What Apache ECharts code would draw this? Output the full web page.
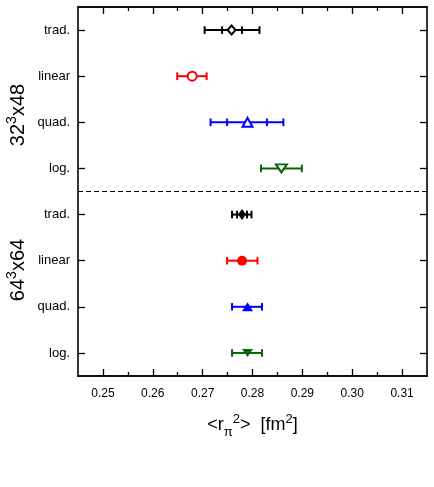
<!DOCTYPE html>
<html>
<head>
<meta charset="utf-8">
<script src="https://cdn.jsdelivr.net/npm/echarts@6/dist/echarts.min.js"></script>
<style>
  html, body { margin: 0; padding: 0; background: #fff; }
  #chart { width: 434px; height: 487px; }
</style>
</head>
<body>
<div id="chart"></div>
<script>
// rows counted from the bottom: 0..3 are 64^3x64, 4..7 are 32^3x48
const rowLabels = ['log.', 'quad.', 'linear', 'trad.', 'log.', 'quad.', 'linear', 'trad.'];
const rowTicks = [0, 1, 2, 3, 4, 5, 6, 7];
const separatorY = 3.5;
const xMin = 0.245, xMax = 0.315;
const xMajorTicks = [0.25, 0.26, 0.27, 0.28, 0.29, 0.30, 0.31];
const xMinorTicks = [0.255, 0.265, 0.275, 0.285, 0.295, 0.305];

// methods in order trad., linear, quad., log.
const methods = ['trad.', 'linear', 'quad.', 'log.'];
const colors = ['#000000', '#ff0000', '#0000ff', '#0a640a'];
const row32 = [7, 6, 5, 4];
const row64 = [3, 2, 1, 0];

// 32^3x48 (open symbols)
const val32 = [0.2758, 0.2679, 0.2790, 0.2858];
const lo32 = [0.2704, 0.2649, 0.2716, 0.2817];
const hi32 = [0.2814, 0.2708, 0.2862, 0.2899];
const innerLo32 = [0.2739, null, 0.2749, null];
const innerHi32 = [0.2779, null, 0.2829, null];

// 64^3x64 (filled symbols)
const val64 = [0.2779, 0.2779, 0.2790, 0.2790];
const lo64 = [0.2759, 0.2749, 0.2759, 0.2759];
const hi64 = [0.2798, 0.2810, 0.2819, 0.2819];
const innerLo64 = [0.2769, null, null, null];
const innerHi64 = [0.2789, null, null, null];

const symbols = ['diamond', 'circle', 'triangle', 'triangle'];
const rotates = [0, 0, 0, 180];
const sizesOpen = [[8, 9], 9, [10, 9], [11, 8]];
const sizesFilled = [[8, 11], 10, [11, 9], [11, 8]];

const font = 'Liberation Sans, Arial, Helvetica, sans-serif';

let chart = echarts.init(document.getElementById('chart'));

// error bar data: lo, hi, row, innerLo, innerHi, colour index
const errData = [];
methods.forEach((m, i) => {
  errData.push([lo32[i], hi32[i], row32[i], innerLo32[i], innerHi32[i], i]);
  errData.push([lo64[i], hi64[i], row64[i], innerLo64[i], innerHi64[i], i]);
});

function renderErr(params, api) {
  const y = api.value(2);
  const color = colors[api.value(5)];
  const p1 = api.coord([api.value(0), y]);
  const p2 = api.coord([api.value(1), y]);
  const h = 3.8;
  const style = { stroke: color, lineWidth: 2 };
  const cap = (p) => ({ type: 'line', shape: { x1: p[0], y1: p[1] - h, x2: p[0], y2: p[1] + h }, style: style });
  const children = [
    { type: 'line', shape: { x1: p1[0], y1: p1[1], x2: p2[0], y2: p2[1] }, style: style },
    cap(p1), cap(p2)
  ];
  const ilo = api.value(3), ihi = api.value(4);
  if (!isNaN(ilo) && !isNaN(ihi)) {
    children.push(cap(api.coord([ilo, y])));
    children.push(cap(api.coord([ihi, y])));
  }
  return { type: 'group', children: children };
}

const series = [{
  type: 'custom',
  renderItem: renderErr,
  data: errData,
  encode: { x: [0, 1], y: 2 },
  z: 2,
  markLine: {
    silent: true,
    symbol: ['none', 'none'],
    label: { show: false },
    lineStyle: { color: '#000', width: 1, type: [5, 3] },
    data: [{ yAxis: separatorY }]
  }
}];

methods.forEach((m, i) => {
  series.push({
    type: 'scatter',
    name: m + ' 32',
    data: [[val32[i], row32[i]]],
    symbol: symbols[i],
    symbolRotate: rotates[i],
    symbolSize: sizesOpen[i],
    itemStyle: { color: '#fff', borderColor: colors[i], borderWidth: 2, opacity: 1 },
    z: 3
  });
  series.push({
    type: 'scatter',
    name: m + ' 64',
    data: [[val64[i], row64[i]]],
    symbol: symbols[i],
    symbolRotate: rotates[i],
    symbolSize: sizesFilled[i],
    itemStyle: { color: colors[i], opacity: 1 },
    z: 3
  });
});

const lineStyle = { color: '#000', width: 1.6 };
const tickStyle = { color: '#000', width: 1.3 };

function xAxisDef(position, ticks, len, withLabels) {
  return {
    type: 'value', position: position, min: xMin, max: xMax,
    axisLine: { show: true, onZero: false, lineStyle: lineStyle },
    axisTick: { show: true, inside: true, length: len, customValues: ticks, lineStyle: tickStyle },
    axisLabel: withLabels ? {
      show: true, customValues: xMajorTicks, margin: 12,
      color: '#000', fontFamily: font, fontSize: 12,
      formatter: (v) => v.toFixed(2)
    } : { show: false },
    splitLine: { show: false }
  };
}

const option = {
  animation: false,
  backgroundColor: '#fff',
  grid: { left: 78, right: 7, top: 7, bottom: 111 },
  xAxis: [
    Object.assign(xAxisDef('bottom', xMajorTicks, 7, true), {
      name: '{n|<r}{sub|π}{sup|2}{n|>  [fm}{sup|2}{n|]}',
      nameLocation: 'middle',
      nameGap: 39,
      nameTextStyle: {
        color: '#000', fontFamily: font, fontSize: 18,
        rich: {
          n: { fontFamily: font, fontSize: 18, lineHeight: 20, color: '#000' },
          sub: { fontFamily: font, fontSize: 13, height: 5, lineHeight: 5, color: '#000', verticalAlign: 'bottom' },
          sup: { fontFamily: font, fontSize: 13, height: 9, lineHeight: 9, color: '#000', verticalAlign: 'top' }
        }
      }
    }),
    xAxisDef('bottom', xMinorTicks, 4, false),
    xAxisDef('top', xMajorTicks, 7, false),
    xAxisDef('top', xMinorTicks, 4, false)
  ],
  yAxis: [
    {
      type: 'value', position: 'left', min: -0.5, max: 7.5,
      axisLine: { show: true, onZero: false, lineStyle: lineStyle },
      axisTick: { show: true, inside: true, length: 7, customValues: rowTicks, lineStyle: tickStyle },
      axisLabel: {
        show: true, customValues: rowTicks, margin: 8,
        color: '#000', fontFamily: font, fontSize: 13,
        formatter: (v) => rowLabels[Math.round(v)]
      },
      splitLine: { show: false }
    },
    {
      type: 'value', position: 'right', min: -0.5, max: 7.5,
      axisLine: { show: true, onZero: false, lineStyle: lineStyle },
      axisTick: { show: true, inside: true, length: 7, customValues: rowTicks, lineStyle: tickStyle },
      axisLabel: { show: false },
      splitLine: { show: false }
    }
  ],
  graphic: [
    {
      type: 'text', x: 18, y: 115, rotation: Math.PI / 2,
      style: {
        text: '{n|32}{s|3}{n|x48}', align: 'center', verticalAlign: 'middle',
        rich: {
          n: { fontFamily: font, fontSize: 20, lineHeight: 22, fill: '#000' },
          s: { fontFamily: font, fontSize: 14, height: 10, lineHeight: 10, fill: '#000', verticalAlign: 'top' }
        }
      }
    },
    {
      type: 'text', x: 18, y: 270, rotation: Math.PI / 2,
      style: {
        text: '{n|64}{s|3}{n|x64}', align: 'center', verticalAlign: 'middle',
        rich: {
          n: { fontFamily: font, fontSize: 20, lineHeight: 22, fill: '#000' },
          s: { fontFamily: font, fontSize: 14, height: 10, lineHeight: 10, fill: '#000', verticalAlign: 'top' }
        }
      }
    }
  ],
  series: series
};

chart.setOption(option);
</script>
</body>
</html>
